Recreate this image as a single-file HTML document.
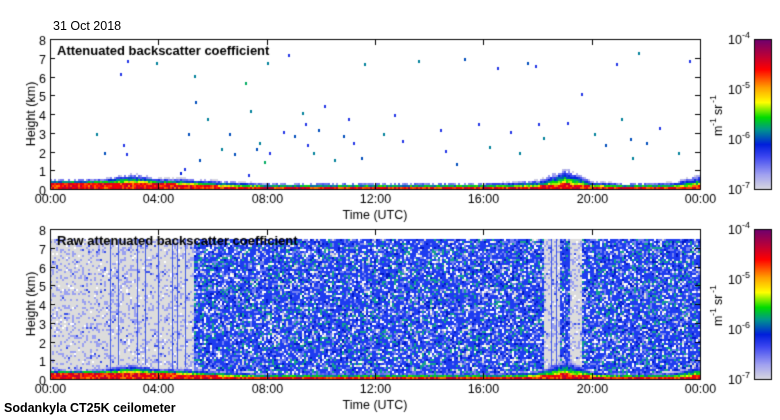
<!DOCTYPE html>
<html><head><meta charset="utf-8"><style>
body{margin:0;background:#fff;width:780px;height:420px;overflow:hidden;position:relative;font-family:"Liberation Sans",sans-serif;}
.t{position:absolute;font-size:12.5px;color:#000;white-space:nowrap;}
canvas{position:absolute;left:0;top:0;}
</style></head><body>
<canvas id="c" width="780" height="420"></canvas>
<div class="t" style="left:53px;top:19px">31 Oct 2018</div>
<div class="t" style="left:4px;top:401px;font-weight:bold">Sodankyla CT25K ceilometer</div>
<script>
// ---- data ----
const hourTicks=["00:00","04:00","08:00","12:00","16:00","20:00","00:00"];
const kmTicks=[0,1,2,3,4,5,6,7,8];
const cbLabels=["-4","-5","-6","-7"];
// boundary layer (aerosol) top height per hour (km), hours 0..24
const blTop=[0.55,0.55,0.6,0.85,0.6,0.6,0.5,0.4,0.35,0.35,0.35,0.35,0.35,0.35,0.35,0.35,0.35,0.4,0.5,1.1,0.45,0.35,0.35,0.4,0.8];
// strong layer (red) top per hour (km)
const redTop=[0.35,0.35,0.35,0.4,0.35,0.3,0.22,0.18,0.15,0.15,0.15,0.15,0.15,0.15,0.15,0.15,0.15,0.15,0.2,0.35,0.2,0.15,0.15,0.15,0.25];
// sparse cloud/noise detections in top panel
const cloudHours=[1.7,2.0,2.6,2.7,2.8,2.85,3.9,4.8,4.95,5.1,5.3,5.35,5.5,5.8,6.3,6.6,6.8,7.2,7.3,7.4,7.6,7.7,7.9,8.0,8.1,8.6,8.8,9.0,9.3,9.4,9.5,9.7,9.9,10.1,10.5,10.8,11.0,11.2,11.5,11.6,12.3,12.7,13.0,13.6,14.4,14.6,15.0,15.3,15.8,16.2,16.5,17.0,17.3,17.6,17.9,18.0,18.2,19.1,19.6,20.1,20.5,20.9,21.1,21.4,21.5,21.7,22.0,22.5,23.2,23.6];
const cloudKm=[3.0,2.0,6.2,2.4,1.9,6.9,6.8,0.9,1.1,3.0,6.1,4.7,1.6,3.8,2.2,3.0,1.9,5.7,0.8,4.2,2.2,2.5,1.5,6.8,2.0,3.1,7.2,2.9,4.1,3.5,2.4,2.0,3.2,4.5,1.6,2.9,3.8,2.5,1.7,6.7,3.0,4.0,2.6,6.9,3.2,2.1,1.4,7.0,3.5,2.3,6.5,3.1,2.0,6.8,6.6,3.5,2.8,3.6,5.1,3.0,2.4,6.7,3.8,2.7,1.7,7.3,2.5,3.3,2.0,6.9];
const cloudLvl=[0.45,0.4,0.3,0.3,0.3,0.3,0.45,0.35,0.3,0.4,0.45,0.4,0.4,0.45,0.45,0.4,0.4,0.5,0.3,0.45,0.4,0.45,0.5,0.45,0.3,0.3,0.3,0.4,0.45,0.3,0.3,0.45,0.4,0.3,0.45,0.4,0.3,0.3,0.4,0.45,0.45,0.3,0.3,0.45,0.3,0.3,0.4,0.4,0.3,0.45,0.3,0.3,0.45,0.4,0.3,0.3,0.45,0.3,0.3,0.45,0.4,0.3,0.45,0.4,0.45,0.45,0.4,0.3,0.45,0.3];
// raw panel: low-noise (grey) intervals in hours
const quietStart=[0,18.2,19.2];
const quietEnd=[5.3,18.8,19.6];
const dimStripes=[2.2,2.5,3.2,3.5,4.0,4.5,4.7,5.0,18.5,18.7,19.0];

// ---- layout ----
const c=document.getElementById('c');const g=c.getContext('2d');
const L=50,R=700,panels=[39,229],H=150;
const xH=h=>L+h/24*(R-L);
const yK=(top,k)=>top+(8-k)*H/8;
function hash(a,b){let n=(a*374761393+b*668265263)>>>0;n=((n^(n>>>13))*1274126177)>>>0;return ((n^(n>>>16))>>>0)/4294967296;}
const stops=[[0,[216,216,224]],[0.1,[160,160,240]],[0.22,[60,70,240]],[0.3,[0,30,220]],[0.4,[0,150,140]],[0.48,[0,220,0]],[0.58,[255,255,0]],[0.68,[255,160,0]],[0.8,[255,0,0]],[0.9,[180,0,60]],[1,[110,0,110]]];
function cmap(v){v=Math.max(0,Math.min(1,v));for(let i=1;i<stops.length;i++){if(v<=stops[i][0]){const a=stops[i-1],b=stops[i],t=(v-a[0])/(b[0]-a[0]);return 'rgb('+a[1].map((x,j)=>Math.round(x+(b[1][j]-x)*t)).join(',')+')';}}return 'rgb(110,0,110)';}
function interp(arr,h){const i=Math.min(23,Math.floor(h)),t=h-i;return arr[i]*(1-t)+arr[i+1]*t;}
function isQuiet(h){for(let i=0;i<quietStart.length;i++)if(h>=quietStart[i]&&h<quietEnd[i])return true;return false;}
const cw=2,ch=2;
function drawLowLayer(top,pi){
  for(let x=L;x<R;x+=cw){const h=(x-L)/(R-L)*24;const bl=interp(blTop,h),rt=interp(redTop,h);
    for(let y=0;y<H;y+=ch){const k=(H-y)/H*8;if(k>bl+0.05)continue;const r=hash(x+pi*7,y);
      let v;if(k<0.07)v=0.92+0.06*r;else if(k<rt)v=0.7+0.2*r;else{const f=(k-rt)/Math.max(0.05,bl-rt);v=0.6-f*0.55+0.15*(r-0.5);if(f>0.85&&r<0.35)continue;}
      g.fillStyle=cmap(v);g.fillRect(x,top+y,cw,ch);}}
}
// top panel
(function(){const top=panels[0];g.fillStyle='#fff';g.fillRect(L,top,R-L,H);
 for(let i=0;i<cloudHours.length;i++){g.fillStyle=cmap(cloudLvl[i]*0.85);g.fillRect(Math.round(xH(cloudHours[i])),Math.round(yK(top,cloudKm[i])),2,3);}
 drawLowLayer(top,0);})();
// bottom panel
(function(){const top=panels[1];g.fillStyle='#dcdcdc';g.fillRect(L,top+10,R-L,H-10);
 for(let x=L;x<R;x+=cw){const h=(x-L)/(R-L)*24;const q=isQuiet(h);
  for(let y=10;y<H;y+=ch){const r=hash(x,y+1000);let col=null;
   if(q){if(r<0.22)col='#9aa0f0';else if(r<0.25)col='#3a50e8';else if(r<0.28)col='#fff';}
   else{if(r<0.5)col='#1e3cf0';else if(r<0.66)col='#7080f0';else if(r<0.77)col='#14a090';else if(r<0.85)col='#fff';else if(r<0.92)col='#0018c8';}
   if(col){g.fillStyle=col;g.fillRect(x,top+y,cw,ch);}}}
 dimStripes.forEach(h=>{g.fillStyle='rgba(30,60,230,0.8)';g.fillRect(Math.round(xH(h)),top+10,1,H-10);});
 drawLowLayer(top,1);})();
// axes
g.strokeStyle='#000';g.lineWidth=1;
panels.forEach((top,pi)=>{
 g.fillStyle='#000';
 g.strokeRect(L+0.5,top+0.5,R-L,H);
 g.font='12.5px "Liberation Sans",sans-serif';
 kmTicks.forEach(k=>{const y=Math.round(yK(top,k))+0.5;g.beginPath();g.moveTo(L,y);g.lineTo(L+5,y);g.moveTo(R,y);g.lineTo(R-5,y);g.stroke();g.textAlign='right';g.fillText(k,46,y+5);});
 hourTicks.forEach((lab,i)=>{const x=Math.round(xH(i*4))+0.5;g.beginPath();g.moveTo(x,top);g.lineTo(x,top+6);g.moveTo(x,top+H);g.lineTo(x,top+H-6);g.stroke();g.textAlign='center';g.fillText(lab,x,top+H+14);});
 g.textAlign='center';g.fillText('Time (UTC)',375,top+H+30);
 g.save();g.translate(35,top+75);g.rotate(-Math.PI/2);g.fillText('Height (km)',0,0);g.restore();
 g.font='bold 13px "Liberation Sans",sans-serif';g.textAlign='left';
 g.fillText(pi==0?'Attenuated backscatter coefficient':'Raw attenuated backscatter coefficient',57,top+16);
 // colorbar
 for(let y=0;y<H;y++){g.fillStyle=cmap(1-y/H);g.fillRect(754,top+y,17,1);}
 g.fillStyle='#000';
 g.strokeRect(754.5,top+0.5,17,H);
 g.font='12.5px "Liberation Sans",sans-serif';
 cbLabels.forEach((e,i)=>{const y=top+i*50;g.textAlign='right';g.fillText('10',742,y+5);g.font='9px "Liberation Sans",sans-serif';g.textAlign='left';g.fillText(e,742,y-1);g.font='12.5px "Liberation Sans",sans-serif';});
 g.save();g.translate(722,top+75);g.rotate(-Math.PI/2);g.textAlign='left';g.fillText('m',-22,0);g.fillText('sr',-1,0);g.font='9px "Liberation Sans",sans-serif';g.fillText('-1',-12,-6);g.fillText('-1',11,-6);g.restore();
});
</script>
</body></html>
